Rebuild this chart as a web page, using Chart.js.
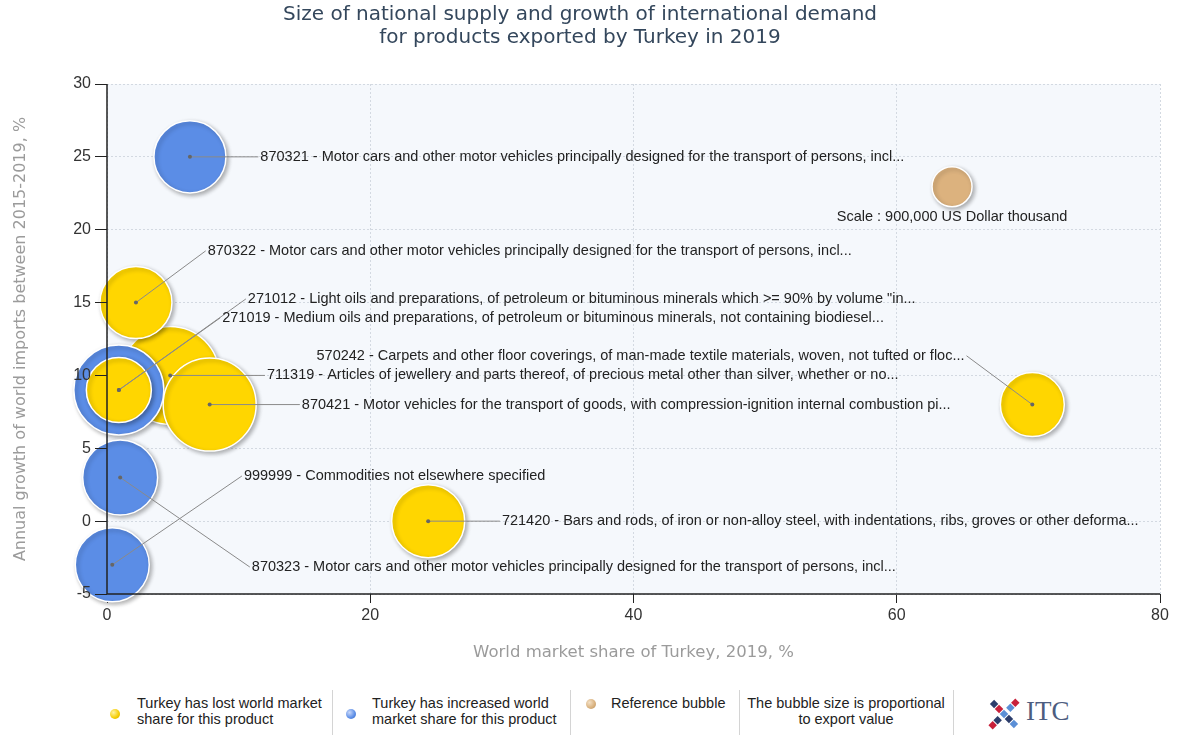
<!DOCTYPE html>
<html>
<head>
<meta charset="utf-8">
<title>Turkey exports 2019</title>
<script src="https://cdn.jsdelivr.net/npm/chart.js@4.4.1/dist/chart.umd.min.js"></script>
<style>
  body { margin: 0; background: #fff; font-family: 'Liberation Sans', Arial, sans-serif; }
  #wrap { position: relative; width: 1178px; height: 735px; overflow: hidden; }
  #chart { position: absolute; left: 0; top: 0; }
  .lg { position: absolute; font-size: 14.5px; line-height: 16px; color: #222; white-space: nowrap; }
  .dot { position: absolute; width: 10px; height: 10px; border-radius: 50%; }
  .sep { position: absolute; top: 690px; width: 1px; height: 45px; background: #d4d4d4; }
  .itc { position: absolute; left: 1026px; top: 696px; font-family: 'Liberation Serif', 'DejaVu Serif', serif; font-size: 27px; color: #4d5d80; }
</style>
</head>
<body>
<div id="wrap">
  <canvas id="chart" width="1178" height="675"></canvas>

  <span class="dot" style="left:110px;top:709px;background:radial-gradient(circle at 35% 35%,#fff3a0,#f5cc00 60%,#c9a500)"></span>
  <div class="lg" style="left:137px;top:695px">Turkey has lost world market<br>share for this product</div>
  <div class="sep" style="left:332px"></div>

  <span class="dot" style="left:346px;top:709px;background:radial-gradient(circle at 35% 35%,#c8d8fa,#5b8de6 60%,#3d6cc0)"></span>
  <div class="lg" style="left:372px;top:695px">Turkey has increased world<br>market share for this product</div>
  <div class="sep" style="left:570px"></div>

  <span class="dot" style="left:586px;top:699px;background:radial-gradient(circle at 35% 35%,#f3e0c6,#d8b07c 60%,#b58d5c)"></span>
  <div class="lg" style="left:611px;top:695px">Reference bubble</div>
  <div class="sep" style="left:739px"></div>

  <div class="lg" style="left:740px;top:695px;width:212px;text-align:center">The bubble size is proportional<br>to export value</div>
  <div class="sep" style="left:953px"></div>

  <svg style="position:absolute;left:983px;top:697px" width="42" height="34" viewBox="0 0 42 34">
    <g transform="rotate(45 21 17)">
      <rect x="18" y="-2" width="6" height="6" fill="#c8203a"/>
      <rect x="18" y="5" width="6" height="6" fill="#5b8fd6"/>
      <rect x="18" y="23" width="6" height="6" fill="#2c3d6b"/>
      <rect x="18" y="30" width="6" height="6" fill="#c8203a"/>
      <rect x="4" y="14" width="6" height="6" fill="#2c3d6b"/>
      <rect x="11" y="14" width="6" height="6" fill="#c8203a"/>
      <rect x="18" y="14" width="6" height="6" fill="#5b8fd6"/>
      <rect x="25" y="14" width="6" height="6" fill="#2c3d6b"/>
      <rect x="32" y="14" width="6" height="6" fill="#5b8fd6"/>
    </g>
  </svg>
  <div class="itc">ITC</div>
</div>

<script>
// Products, in drawing order (back to front)
const codes = ['711319', '870322', '271012', '271019', '870421', '870321', '870323', '999999', '721420', '570242'];
const names = [
    'Articles of jewellery and parts thereof, of precious metal other than silver, whether or no...',
    'Motor cars and other motor vehicles principally designed for the transport of persons, incl...',
    'Light oils and preparations, of petroleum or bituminous minerals which >= 90% by volume "in...',
    'Medium oils and preparations, of petroleum or bituminous minerals, not containing biodiesel...',
    'Motor vehicles for the transport of goods, with compression-ignition internal combustion pi...',
    'Motor cars and other motor vehicles principally designed for the transport of persons, incl...',
    'Motor cars and other motor vehicles principally designed for the transport of persons, incl...',
    'Commodities not elsewhere specified',
    'Bars and rods, of iron or non-alloy steel, with indentations, ribs, groves or other deforma...',
    'Carpets and other floor coverings, of man-made textile materials, woven, not tufted or floc...'
];
const marketShare = [4.8, 2.2, 0.9, 0.9, 7.8, 6.3, 1.0, 0.4, 24.4, 70.3];      // %
const importGrowth = [10.0, 15.0, 9.0, 9.0, 8.0, 25.0, 3.0, -3.0, 0.0, 8.0];    // %
const exportValue = [5400000, 2920000, 4560000, 2380000, 4870000, 2920000, 3160000, 3080000, 3000000, 2300000]; // USD thousand
const gainedShare = [false, false, true, false, false, true, true, true, false, false];

// Reference bubble
const refShare = 64.2;
const refGrowth = 22.95;
const refValue = 900000;

// Axis ticks
const xTicks = [0, 20, 40, 60, 80];
const yTicks = [-5, 0, 5, 10, 15, 20, 25, 30];

// Where each label sits (axis units) and how it is aligned
const labelAt = [[12.0, 10.0], [7.5, 18.55], [10.55, 15.25], [8.6, 13.95], [14.65, 8.0],
                 [11.5, 25.0], [10.85, -3.15], [10.25, 3.1], [29.85, 0.0], [65.3, 11.35]];
const labelAlign = ['left', 'left', 'left', 'left', 'left', 'left', 'left', 'left', 'left', 'right'];
const refLabelAt = [64.2, 20.9];

const colors = {
    lost: '#FFD600',
    gained: '#5B8DE6',
    reference: '#DCB27E',
    plotBg: '#F5F8FC',
    grid: '#D3D9E1',
    axis: '#222'
};

// bubble area proportional to export value; reference bubble is 20px radius
const REF_RADIUS = 20;
function radiusFor(v) { return REF_RADIUS * Math.sqrt(v / refValue); }

const points = codes.map((c, i) => ({ x: marketShare[i], y: importGrowth[i], r: radiusFor(exportValue[i]) }));
const pointColors = gainedShare.map(g => g ? colors.gained : colors.lost);

const labelFont = "14.5px 'Liberation Sans', Arial, sans-serif";

// plot area background
const plotBg = {
    id: 'plotBg',
    beforeDraw(chart) {
        const { ctx, chartArea: a } = chart;
        ctx.save();
        ctx.fillStyle = colors.plotBg;
        ctx.fillRect(a.left, a.top, a.right - a.left, a.bottom - a.top);
        ctx.restore();
    }
};

// soft drop shadow under bubbles
const bubbleShadow = {
    id: 'bubbleShadow',
    beforeDatasetDraw(chart) {
        const c = chart.ctx;
        c.save();
        c.shadowColor = 'rgba(0,0,0,0.3)';
        c.shadowBlur = 4;
        c.shadowOffsetX = 2;
        c.shadowOffsetY = 2;
    },
    afterDatasetDraw(chart) {
        chart.ctx.restore();
    }
};

// axis lines on top of bubbles, then leader lines and labels
const bubbleLabels = {
    id: 'bubbleLabels',
    afterDatasetsDraw(chart) {
        const { ctx, chartArea: a } = chart;
        const xs = chart.scales.x, ys = chart.scales.y;
        ctx.save();
        ctx.strokeStyle = colors.axis;
        ctx.lineWidth = 1.5;
        ctx.beginPath();
        ctx.moveTo(a.left, a.top);
        ctx.lineTo(a.left, a.bottom);
        ctx.lineTo(a.right, a.bottom);
        ctx.stroke();

        ctx.font = labelFont;
        ctx.textBaseline = 'middle';
        codes.forEach((code, i) => {
            const cx = xs.getPixelForValue(marketShare[i]);
            const cy = ys.getPixelForValue(importGrowth[i]);
            const lx = xs.getPixelForValue(labelAt[i][0]);
            const ly = ys.getPixelForValue(labelAt[i][1]);
            ctx.strokeStyle = '#8a8a8a';
            ctx.lineWidth = 1;
            ctx.beginPath();
            ctx.moveTo(cx, cy);
            ctx.lineTo(lx, ly);
            ctx.stroke();
            ctx.fillStyle = '#666';
            ctx.beginPath();
            ctx.arc(cx, cy, 2, 0, Math.PI * 2);
            ctx.fill();
            ctx.fillStyle = '#222';
            ctx.textAlign = labelAlign[i];
            const text = code + ' - ' + names[i];
            ctx.fillText(text, labelAlign[i] === 'right' ? lx - 2 : lx + 2, ly);
        });

        ctx.textAlign = 'center';
        ctx.fillStyle = '#222';
        ctx.fillText('Scale : 900,000 US Dollar thousand',
            xs.getPixelForValue(refLabelAt[0]), ys.getPixelForValue(refLabelAt[1]));
        ctx.restore();
    }
};

const tickFont = { family: "'Liberation Sans', Arial, sans-serif", size: 16 };

new Chart(document.getElementById('chart'), {
    type: 'bubble',
    data: {
        datasets: [
            {
                label: 'Products',
                data: points,
                backgroundColor: pointColors,
                borderColor: '#ffffff',
                borderWidth: 1.5,
                clip: false
            },
            {
                label: 'Reference bubble',
                data: [{ x: refShare, y: refGrowth, r: REF_RADIUS }],
                backgroundColor: colors.reference,
                borderColor: '#ffffff',
                borderWidth: 1.5,
                clip: false
            }
        ]
    },
    options: {
        responsive: false,
        animation: false,
        events: [],
        layout: { autoPadding: false, padding: { left: 0, right: 18, top: 0, bottom: 0 } },
        plugins: {
            legend: { display: false },
            tooltip: { enabled: false },
            title: {
                display: true,
                text: ['Size of national supply and growth of international demand',
                       'for products exported by Turkey in 2019'],
                color: '#34475c',
                font: { family: "'DejaVu Sans', Verdana, sans-serif", size: 20, weight: 'normal', lineHeight: 1.15 },
                padding: { top: 3, bottom: 35 }
            }
        },
        scales: {
            x: {
                type: 'linear',
                min: xTicks[0],
                max: xTicks[xTicks.length - 1],
                afterBuildTicks(s) { s.ticks = xTicks.map(v => ({ value: v })); },
                ticks: { color: '#333', font: tickFont, padding: 3 },
                grid: { color: colors.grid, tickColor: colors.axis, tickLength: 9, tickBorderDash: [] },
                border: { display: false, dash: [2, 2] },
                title: {
                    display: true,
                    text: 'World market share of Turkey, 2019, %',
                    color: '#9b9b9b',
                    font: { family: "'DejaVu Sans', Verdana, sans-serif", size: 16.5 },
                    padding: { top: 0, bottom: 12 }
                },
                afterFit(s) { s.height = 81; }
            },
            // horizontal grid lines only, behind the bubbles
            y: {
                type: 'linear',
                position: 'left',
                weight: 0,
                min: yTicks[0],
                max: yTicks[yTicks.length - 1],
                afterBuildTicks(s) { s.ticks = yTicks.map(v => ({ value: v })); },
                ticks: { display: false },
                grid: { color: colors.grid, drawTicks: false },
                border: { display: false, dash: [2, 2] },
                afterFit(s) { s.width = 0; }
            },
            // tick labels, tick marks and title, drawn above the bubbles
            yAxis: {
                type: 'linear',
                position: 'left',
                weight: 1,
                min: yTicks[0],
                max: yTicks[yTicks.length - 1],
                afterBuildTicks(s) { s.ticks = yTicks.map(v => ({ value: v })); },
                ticks: { color: '#333', font: tickFont, padding: 4, z: 1 },
                grid: { drawOnChartArea: false, color: colors.axis, tickLength: 12, z: 1 },
                border: { display: false, z: 1 },
                title: {
                    display: true,
                    text: 'Annual growth of world imports between 2015-2019, %',
                    color: '#9b9b9b',
                    font: { family: "'DejaVu Sans', Verdana, sans-serif", size: 16 },
                    padding: { top: 11, bottom: 0 }
                },
                afterFit(s) { s.width = 107; }
            }
        }
    },
    plugins: [plotBg, bubbleShadow, bubbleLabels]
});
</script>
</body>
</html>
